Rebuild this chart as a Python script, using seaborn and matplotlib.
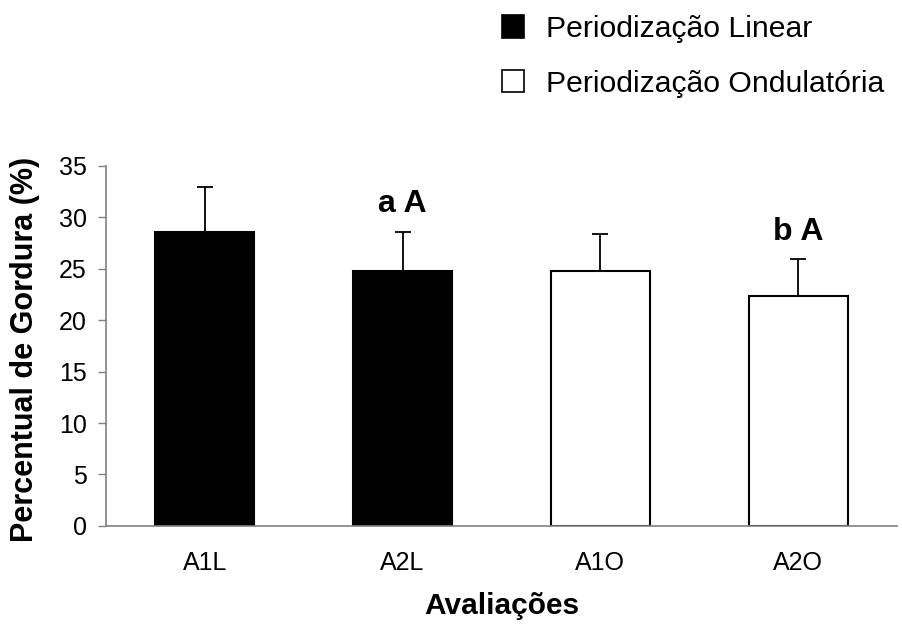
import matplotlib
matplotlib.use("Agg")
import matplotlib.pyplot as plt
from matplotlib.patches import Patch
import seaborn as sns
import pandas as pd
import numpy as np

categories = ["A1L", "A2L", "A1O", "A2O"]
means = [28.6, 24.8, 24.8, 22.3]
sd_upper = [4.3, 3.8, 3.6, 3.6]
groups = ["Periodização Linear", "Periodização Linear",
          "Periodização Ondulatória", "Periodização Ondulatória"]
letters = ["", "a A", "", "b A"]
yticks = [0, 5, 10, 15, 20, 25, 30, 35]
ylabel = "Percentual de Gordura (%)"
xlabel = "Avaliações"

sns.set_style("white")
plt.rcParams["font.family"] = ["Liberation Sans", "DejaVu Sans"]
plt.rcParams["text.color"] = "black"
plt.rcParams["axes.labelcolor"] = "black"
plt.rcParams["xtick.color"] = "black"
plt.rcParams["ytick.color"] = "black"

df = pd.DataFrame({"cat": categories, "val": means, "grp": groups})
palette = {"Periodização Linear": "black", "Periodização Ondulatória": "white"}

fig = plt.figure(figsize=(9.02, 6.29), dpi=100)
ax = fig.add_axes([0.1175, 0.1638, 0.877, 0.5728])

sns.barplot(data=df, x="cat", y="val", hue="grp", palette=palette,
            dodge=False, width=0.5, errorbar=None, edgecolor="black",
            linewidth=1.5, legend=False, ax=ax)

x = np.arange(len(categories))
ax.errorbar(x, means, yerr=[np.zeros(len(means)), sd_upper], fmt="none",
            ecolor="black", elinewidth=1.3, capsize=5.5, capthick=1.3, zorder=5)

for xi, m, s, t in zip(x, means, sd_upper, letters):
    if t:
        ax.text(xi, m + s + 1.2, t, ha="center", va="bottom",
                fontsize=23, fontweight="bold", color="black")

ax.set_ylim(0, 35)
ax.set_xlim(-0.5, 3.5)
ax.set_yticks(yticks)
ax.set_yticklabels([str(v) for v in yticks], fontsize=18)
ax.set_xticks(x)
ax.set_xticklabels(categories, fontsize=18)
ax.set_xticks(np.arange(-0.5, 4.0, 1.0), minor=True)
ax.tick_params(axis="x", which="major", length=0, pad=18)
ax.tick_params(axis="x", which="minor", length=6.5, width=1, color="#808080",
               direction="out")
ax.tick_params(axis="y", length=6, width=1, color="#808080", labelcolor="black",
               direction="out", pad=8, left=True)
ax.tick_params(axis="x", labelcolor="black")
for side in ["top", "right"]:
    ax.spines[side].set_visible(False)
for side in ["left", "bottom"]:
    ax.spines[side].set_color("#808080")
    ax.spines[side].set_linewidth(1.2)

ax.set_ylabel(ylabel, fontsize=22, fontweight="bold", color="black")
ax.yaxis.set_label_coords(-0.083, 0.491)
ax.set_xlabel(xlabel, fontsize=21.5, fontweight="bold", color="black")
ax.xaxis.set_label_coords(0.5, -0.182)

handles = [Patch(facecolor="black", edgecolor="black", linewidth=1.2),
           Patch(facecolor="white", edgecolor="black", linewidth=1.2)]
leg = fig.legend(handles, ["Periodização Linear", "Periodização Ondulatória"],
                 loc="upper left", bbox_to_anchor=(0.556, 0.976), frameon=False,
                 fontsize=21.7, handlelength=0.76, handleheight=0.76,
                 handletextpad=0.7, labelspacing=0.88, borderpad=0,
                 borderaxespad=0)
for t in leg.get_texts():
    t.set_color("black")

fig.savefig("out.png", dpi=100)
